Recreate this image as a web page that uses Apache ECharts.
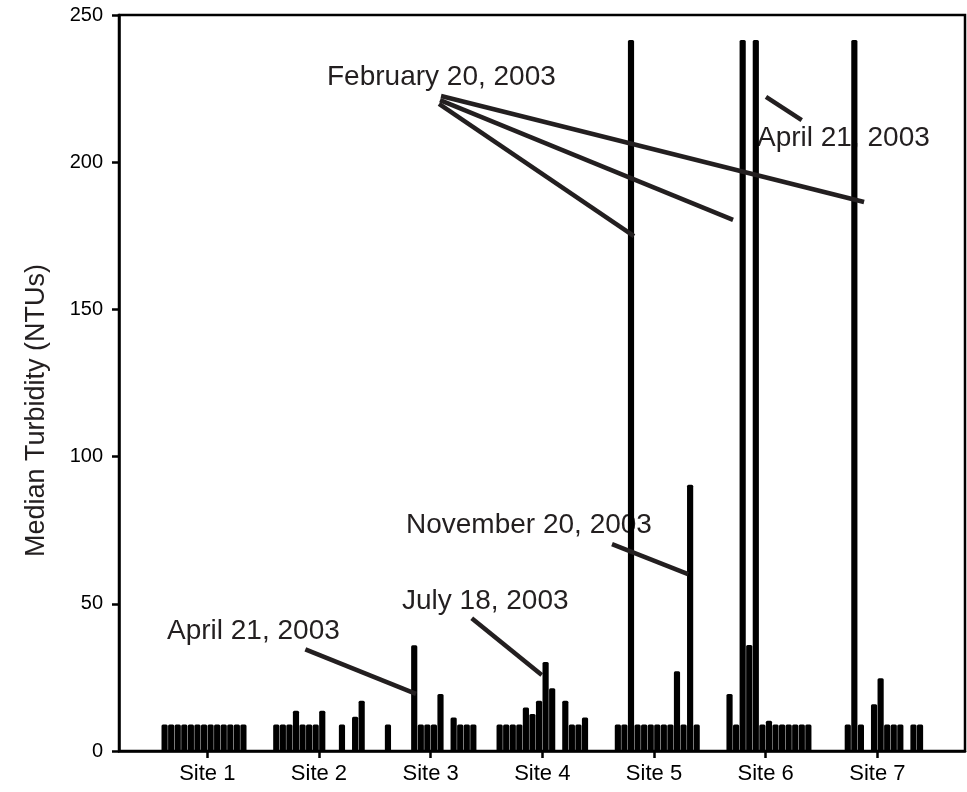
<!DOCTYPE html>
<html>
<head>
<meta charset="utf-8">
<script src="https://cdn.jsdelivr.net/npm/echarts@6/dist/echarts.min.js"></script>
<style>
html,body{margin:0;padding:0;background:#fff;}
#chart{width:967px;height:792px;}
</style>
</head>
<body>
<div id="chart"></div>
<script>
// ---- data ----
const siteNames = ['Site 1', 'Site 2', 'Site 3', 'Site 4', 'Site 5', 'Site 6', 'Site 7'];
// median turbidity (NTUs) per sampling slot at each site (null = no sample)
const site1 = [9, 9, 9, 9, 9, 9, 9, 9, 9, 9, 9, 9, 9, null];
const site2 = [9, 9, 9, 13.7, 9, 9, 9, 13.7, null, null, 9, null, 11.6, 17.1];
const site3 = [9, null, null, null, 35.9, 9, 9, 9, 19.4, null, 11.4, 9, 9, 9];
const site4 = [9, 9, 9, 9, 14.8, 12.6, 17.1, 30.2, 21.3, null, 17.1, 9, 9, 11.4];
const site5 = [null, 9, 9, 241.5, 9, 9, 9, 9, 9, 9, 27.1, 9, 90.4, 9];
const site6 = [null, 19.4, 9, 241.5, 36, 241.5, 9, 10.3, 9, 9, 9, 9, 9, 9];
const site7 = [null, null, 9, 241.5, 9, null, 15.9, 24.7, 9, 9, 9, null, 9, 9];
const yTicks = [0, 50, 100, 150, 200, 250];
const annotationTexts = ['February 20, 2003', 'April 21, 2003', 'November 20, 2003', 'July 18, 2003', 'April 21, 2003'];

// ---- build ----
const sites = [site1, site2, site3, site4, site5, site6, site7];
const slotStep = 1 / 17;
const barData = [];
sites.forEach((vals, k) => {
  vals.forEach((v, i) => {
    if (v !== null) barData.push([k + 1 + (i - (vals.length - 1) / 2) * slotStep, v]);
  });
});

const ink = '#231f20';
const font = '"Liberation Sans", Arial, sans-serif';

// callout lines in data coordinates [site position, NTU]
const callouts = [
  [[3.075, 219.8], [4.821, 174.9]],
  [[3.084, 221.1], [5.708, 180.4]],
  [[3.093, 222.5], [6.881, 186.5]],
  [[6.003, 222.2], [6.323, 214.3]],
  [[4.624, 70.3], [5.305, 60.1]],
  [[3.368, 45.1], [3.995, 25.8]],
  [[1.878, 34.5], [2.869, 19.4]]
];
const textPos = [[327, 77.5], [757, 138.5], [406, 525.5], [402, 601.5], [167, 631.5]];

function renderBar(params, api) {
  const x = api.value(0), y = api.value(1);
  const half = slotStep * 0.47;
  const p0 = api.coord([x - half, 0]);
  const p1 = api.coord([x + half, y]);
  return {
    type: 'rect',
    shape: { x: p0[0], y: p1[1], width: p1[0] - p0[0], height: p0[1] - p1[1], r: [1.5, 1.5, 0, 0] },
    style: { fill: '#000' }
  };
}

const chart = echarts.init(document.getElementById('chart'));
chart.setOption({
  animation: false,
  backgroundColor: '#fff',
  grid: {
    left: 119, top: 15, right: 2, bottom: 41,
    show: true, borderColor: '#000', borderWidth: 2.5, backgroundColor: 'transparent'
  },
  xAxis: {
    type: 'value',
    min: 0.2093,
    max: 7.785,
    splitLine: { show: false },
    axisLine: { show: true, onZero: false, lineStyle: { color: '#000', width: 2.5 } },
    axisTick: { show: true, customValues: [1, 2, 3, 4, 5, 6, 7], length: 7, lineStyle: { color: '#000', width: 2.5 } },
    axisLabel: {
      show: true,
      customValues: [1, 2, 3, 4, 5, 6, 7],
      formatter: v => siteNames[Math.round(v) - 1] || '',
      fontSize: 22, fontFamily: font, color: '#000', margin: 12
    }
  },
  yAxis: {
    type: 'value',
    min: yTicks[0],
    max: yTicks[yTicks.length - 1],
    interval: 50,
    splitLine: { show: false },
    axisLine: { show: true, lineStyle: { color: '#000', width: 2.5 } },
    axisTick: { show: true, length: 7, lineStyle: { color: '#000', width: 2.5 } },
    axisLabel: { fontSize: 20, fontFamily: font, color: '#000', margin: 16 }
  },
  series: [{
    type: 'custom',
    data: barData,
    encode: { x: 0, y: 1 },
    renderItem: renderBar,
    clip: true,
    markLine: {
      silent: true,
      symbol: ['none', 'none'],
      label: { show: false },
      lineStyle: { color: ink, width: 4.5, type: 'solid', cap: 'butt' },
      emphasis: { disabled: true },
      data: callouts.map(c => [{ coord: c[0] }, { coord: c[1] }])
    }
  }],
  graphic: [
    {
      type: 'text', x: 37, y: 410.5, rotation: Math.PI / 2,
      style: { text: 'Median Turbidity (NTUs)', font: '27px ' + font, fill: ink, align: 'center', verticalAlign: 'middle' }
    }
  ].concat(annotationTexts.map((t, i) => ({
    type: 'text', x: textPos[i][0], y: textPos[i][1],
    style: { text: t, font: '28px ' + font, fill: ink, align: 'left', verticalAlign: 'middle' }
  })))
});
</script>
</body>
</html>
